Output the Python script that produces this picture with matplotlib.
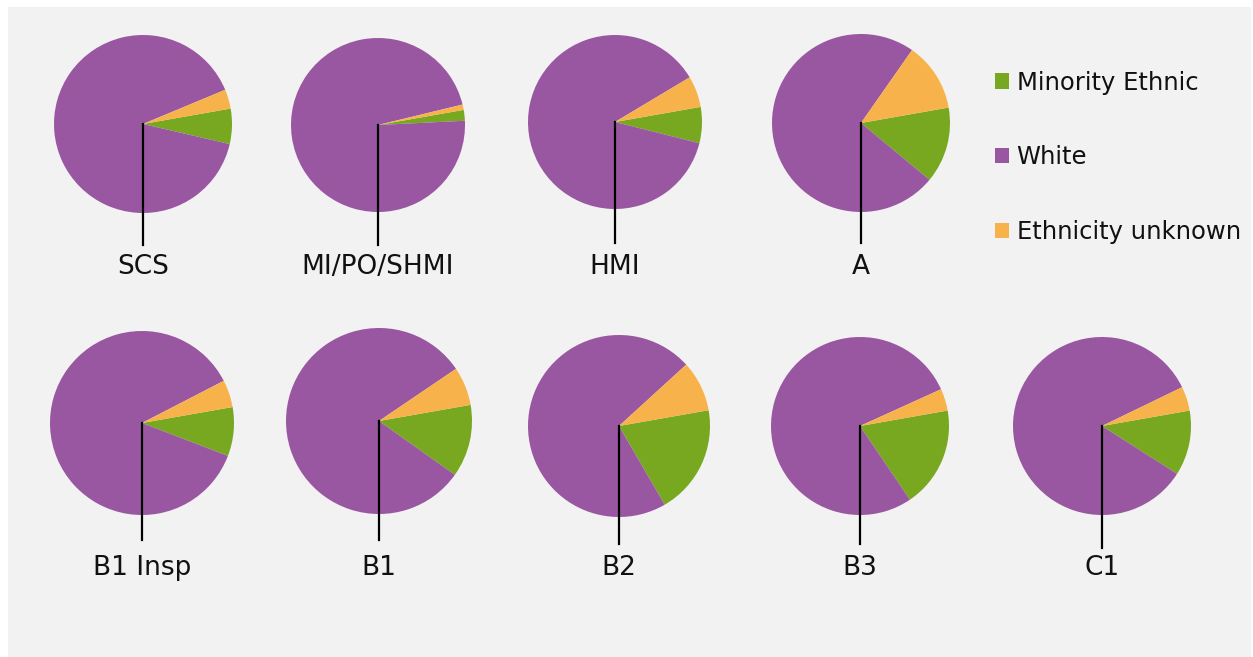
import matplotlib.pyplot as plt
from matplotlib.patches import Rectangle

# data (percent of staff in each grade)
grades = ['SCS', 'MI/PO/SHMI', 'HMI', 'A', 'B1 Insp', 'B1', 'B2', 'B3', 'C1']
series = ['Minority Ethnic', 'White', 'Ethnicity unknown']
minority = [6.4, 2.0, 6.7, 13.8, 8.6, 12.6, 19.4, 18.3, 11.8]
white = [90.1, 97.0, 87.5, 73.7, 86.6, 80.7, 71.6, 77.7, 83.8]
unknown = [3.5, 1.0, 5.8, 12.5, 4.8, 6.7, 9.0, 4.0, 4.4]

colors = ['#77A81F', '#9A57A1', '#F8B24C']

# layout in pixels (x, y from top, radius, line end, label y)
W, H = 1253, 657
centers = [(143, 124), (378, 125), (615, 122), (861, 123),
           (142, 423), (379, 421), (619, 426), (860, 426), (1102, 426)]
radii = [89, 87, 87, 89, 92, 93, 91, 89, 89]
line_end = [245, 245, 243, 243, 540, 540, 544, 544, 548]
label_y = [267, 267, 267, 267, 568, 568, 568, 568, 568]

fig = plt.figure(figsize=(W / 100, H / 100), dpi=100, facecolor='white')
ax = fig.add_axes([0, 0, 1, 1])
ax.set_xlim(0, W)
ax.set_ylim(0, H)
ax.set_aspect('equal')
ax.axis('off')

# grey panel
ax.add_patch(Rectangle((8, 0), W - 10, H - 7, facecolor='#F2F2F2', edgecolor='none', zorder=0))

wedges = None
for i, g in enumerate(grades):
    cx, cy = centers[i]
    vals = [minority[i], white[i], unknown[i]]
    w, _ = ax.pie(vals, colors=colors, startangle=10, counterclock=False,
                  center=(cx, H - cy), radius=radii[i], frame=True,
                  wedgeprops=dict(linewidth=0))
    if wedges is None:
        wedges = w
    ax.plot([cx, cx], [H - cy, H - line_end[i]], color='black', lw=1.6, zorder=5)
    ax.text(cx, H - label_y[i], g, ha='center', va='center', fontsize=19, color='#111111')

ax.set_xlim(0, W)
ax.set_ylim(0, H)
ax.axis('off')

leg = ax.legend(wedges, series, loc='upper left', bbox_to_anchor=(985 / W, 1 - 61 / H),
                frameon=False, fontsize=17.5, handlelength=0.6, handleheight=0.6,
                handletextpad=0.3, labelspacing=2.08, borderaxespad=0)
for t in leg.get_texts():
    t.set_color('#111111')

fig.savefig('out.png', dpi=100, facecolor='white')
